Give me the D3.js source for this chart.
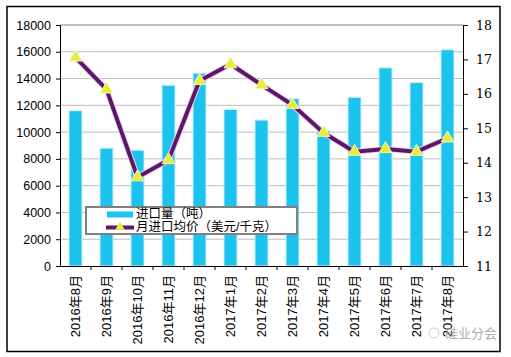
<!DOCTYPE html>
<html><head><meta charset="utf-8">
<script src="https://cdn.jsdelivr.net/npm/d3@7"></script>
<style>body{margin:0;background:#fff}svg{display:block}</style>
</head><body>
<script>
const categories = ["2016年8月","2016年9月","2016年10月","2016年11月","2016年12月","2017年1月","2017年2月","2017年3月","2017年4月","2017年5月","2017年6月","2017年7月","2017年8月"];
const importVolume = [11600, 8800, 8650, 13500, 14400, 11700, 10900, 12500, 10100, 12600, 14800, 13700, 16150];
const avgPrice = [17.06, 16.13, 13.58, 14.08, 16.38, 16.86, 16.26, 15.68, 14.87, 14.32, 14.40, 14.32, 14.71];
const leftTicks = [0,2000,4000,6000,8000,10000,12000,14000,16000,18000];
const rightTicks = [11,12,13,14,15,16,17,18];
const seriesNames = ["进口量（吨）","月进口均价（美元/千克）"];

const W = 511, H = 357;
const svg = d3.select("body").append("svg").attr("width", W).attr("height", H);
const font = "'Liberation Sans', 'Noto Sans CJK SC', sans-serif";

svg.append("rect").attr("x",7).attr("y",6.5).attr("width",493).attr("height",345)
  .attr("fill","#fff").attr("stroke","#000").attr("stroke-width",1.5);

const L = 60, R = 463, T = 25, B = 266;
const x = d3.scaleBand().domain(categories).range([L, R]).paddingInner(0.58).paddingOuter(0.29);
const xb = d3.scaleBand().domain(categories).range([L, R]);
const yL = d3.scaleLinear().domain([0,18000]).range([B, T]);
const yR = d3.scaleLinear().domain([11,18]).range([B, T]);

// gridlines
svg.append("g").selectAll("line").data(leftTicks.filter(d=>d>0)).join("line")
  .attr("x1", L).attr("x2", R).attr("y1", d=>yL(d)).attr("y2", d=>yL(d))
  .attr("stroke", d=> d===18000 ? "#808080" : "#bdbdbd").attr("stroke-width",1);

// bars with light halo
svg.append("g").selectAll("rect").data(importVolume).join("rect")
  .attr("x",(d,i)=>x(categories[i])).attr("width",x.bandwidth())
  .attr("y",d=>yL(d)).attr("height",d=>B-yL(d))
  .attr("fill","#1cc3ef").attr("stroke","#c9f1fb").attr("stroke-width",1);

// axes
const axL = svg.append("g").attr("transform",`translate(${L},0)`)
  .call(d3.axisLeft(yL).tickValues(leftTicks).tickSize(4).tickFormat(d3.format("d")));
const axR = svg.append("g").attr("transform",`translate(${R},0)`)
  .call(d3.axisRight(yR).tickValues(rightTicks).tickSize(5).tickPadding(8).tickFormat(d3.format("d")));
const axB = svg.append("g").attr("transform",`translate(0,${B})`)
  .call(d3.axisBottom(xb).tickSize(0).tickFormat(""));
[axL, axR, axB].forEach(a=>{ a.select(".domain").attr("stroke","#000"); a.selectAll(".tick line").attr("stroke","#000"); });
axL.selectAll("text").attr("font-family",font).attr("font-size",12.5).attr("fill","#000").attr("dx",-2);
axR.selectAll("text").attr("font-family","'DejaVu Serif', serif").attr("font-size",12.5).attr("fill","#000");

// x ticks at band boundaries
svg.append("g").selectAll("line").data(categories.slice(1)).join("line")
  .attr("x1",d=>xb(d)).attr("x2",d=>xb(d)).attr("y1",B).attr("y2",B+4).attr("stroke","#000");

// x labels rotated
svg.append("g").selectAll("text").data(categories).join("text")
  .attr("transform",d=>`translate(${xb(d)+xb.bandwidth()/2+1},${B+9}) rotate(-90)`)
  .attr("text-anchor","end").attr("dominant-baseline","middle")
  .attr("font-family",font).attr("font-size",13).attr("fill","#000").text(d=>d);

// line
const line = d3.line().x((d,i)=>xb(categories[i])+xb.bandwidth()/2).y(d=>yR(d));
svg.append("path").datum(avgPrice).attr("d",line).attr("fill","none")
  .attr("stroke","#f3d3f0").attr("stroke-width",6).attr("stroke-linejoin","round");
svg.append("path").datum(avgPrice).attr("d",line).attr("fill","none")
  .attr("stroke","#5a1868").attr("stroke-width",4).attr("stroke-linejoin","round");

const tri = d3.symbol().type(d3.symbolTriangle).size(70);
svg.append("g").selectAll("path").data(avgPrice).join("path")
  .attr("transform",(d,i)=>`translate(${xb(categories[i])+xb.bandwidth()/2},${yR(d)})`)
  .attr("d",tri).attr("fill","#e6ec3c").attr("stroke","#f6f7b0").attr("stroke-width",1);

// legend
const lg = svg.append("g");
lg.append("rect").attr("x",86).attr("y",207).attr("width",211).attr("height",27)
  .attr("fill","#fff").attr("stroke","#808080").attr("stroke-width",2);
lg.append("rect").attr("x",107).attr("y",211.5).attr("width",26).attr("height",6).attr("fill","#1cc3ef");
lg.append("line").attr("x1",106).attr("x2",134).attr("y1",227.5).attr("y2",227.5)
  .attr("stroke","#5a1868").attr("stroke-width",4);
lg.append("path").attr("transform","translate(120,227)").attr("d",d3.symbol().type(d3.symbolTriangle).size(40))
  .attr("fill","#e6ec3c");
lg.selectAll("text.lt").data(seriesNames).join("text").attr("class","lt")
  .attr("x",136).attr("y",(d,i)=>214.5+i*13.5).attr("dominant-baseline","middle")
  .attr("font-family",font).attr("font-size",12.5).attr("fill","#000").text(d=>d);

// watermark
svg.append("text").attr("x",445).attr("y",338).attr("font-family",font).attr("font-size",13)
  .attr("fill","#9a9a9a").attr("opacity",0.8).text("硅业分会");
svg.append("circle").attr("cx",434).attr("cy",333).attr("r",5).attr("fill","none").attr("stroke","#ccc");
</script>
</body></html>
